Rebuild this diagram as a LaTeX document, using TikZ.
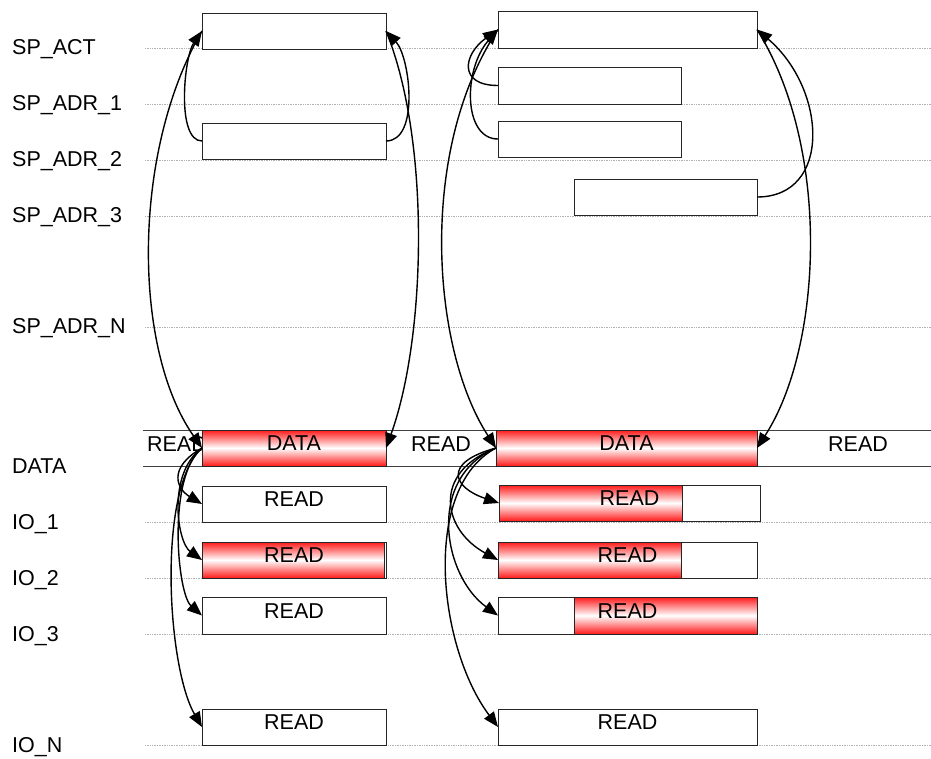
\documentclass[tikz,border=0pt]{standalone}
\usepackage{fontspec}
\setmainfont{Liberation Sans}
\usetikzlibrary{arrows.meta}

\begin{document}
\begin{tikzpicture}[x=1pt,y=-1pt,
every node/.style={font=\fontsize{21.5}{25}\selectfont},
lab/.style={anchor=base west,inner sep=0pt},
txt/.style={inner sep=0pt},
box/.style={draw=black!85,fill=white,line width=1pt,inner sep=0pt,outer sep=0pt,
  minimum height=36pt,text depth=9pt,anchor=north west},
frame/.style={box,fill=none},
redbox/.style={box,top color=red!90,bottom color=red!90,middle color=white},
guide/.style={densely dotted,gray!60,line width=0.7pt},
arr/.style={-{Triangle[length=15pt,width=12pt]},line width=1.4pt}]
\useasboundingbox (0,0) rectangle (931,758);

% row labels
\node[lab] (lact) at (12,54) {SP\_ACT};
\node[lab] (ladr1) at (12,110) {SP\_ADR\_1};
\node[lab] (ladr2) at (12,166) {SP\_ADR\_2};
\node[lab] (ladr3) at (12,222) {SP\_ADR\_3};
\node[lab] (ladrn) at (12,333) {SP\_ADR\_N};
\node[lab] (ldata) at (12,473) {DATA};
\node[lab] (lio1) at (12,529) {IO\_1};
\node[lab] (lio2) at (12,585) {IO\_2};
\node[lab] (lio3) at (12,641) {IO\_3};
\node[lab] (lion) at (12,752) {IO\_N};

% guide lines
\draw[guide] (145,48) -- (931,48);
\draw[guide] (145,104) -- (931,104);
\draw[guide] (145,160) -- (931,160);
\draw[guide] (145,216) -- (931,216);
\draw[guide] (145,327) -- (931,327);
\draw[guide] (145,522) -- (931,522);
\draw[guide] (145,578) -- (931,578);
\draw[guide] (145,634) -- (931,634);
\draw[guide] (145,745) -- (931,745);
\draw[black!75,line width=1pt] (143,430) -- (931,430);
\draw[black!75,line width=1pt] (143,466) -- (931,466);

% SP boxes
\node[box,minimum width=184pt] (acta) at (202,13) {};
\node[box,minimum width=184pt] (adr2a) at (202,123) {};
\node[box,minimum width=259pt,minimum height=37pt] (actb) at (498,11) {};
\node[box,minimum width=183pt,minimum height=37pt] (adr1b) at (498,67) {};
\node[box,minimum width=183pt] (adr2b) at (498,121) {};
\node[box,minimum width=183pt] (adr3b) at (574,179) {};

% DATA row
\node[txt] (rda) at (177,444) {READ};
\node[txt] (rdb) at (441,444) {READ};
\node[txt] (rdc) at (858,444) {READ};
\node[redbox,minimum width=184pt] (dataa) at (202,430) {DATA};
\node[redbox,minimum width=261pt] (datab) at (496,430) {DATA};

% IO boxes
\node[box,minimum width=184pt] (ioa1) at (202,486) {READ};
\node[redbox,minimum width=182pt] (ioa2r) at (202,542) {};
\node[frame,minimum width=184pt] (ioa2) at (202,542) {READ};
\node[box,minimum width=184pt,minimum height=37pt] (ioa3) at (202,597) {READ};
\node[box,minimum width=184pt] (ioan) at (202,709) {READ};
\node[redbox,minimum width=183pt] (iob1r) at (499,485) {};
\node[frame,minimum width=261pt] (iob1) at (499,485) {READ};
\node[redbox,minimum width=183pt] (iob2r) at (498,542) {};
\node[frame,minimum width=259pt] (iob2) at (498,542) {READ};
\node[redbox,minimum width=183pt,minimum height=37pt] (iob3r) at (574,597) {};
\node[frame,minimum width=259pt,minimum height=37pt] (iob3) at (498,597) {READ};
\node[box,minimum width=259pt] (iobn) at (498,709) {READ};

% arrows, left
\draw[arr] (adr2a.west) .. controls +(-26,0) and +(-18,26) .. (acta.west);
\draw[arr] (adr2a.east) .. controls +(34,0) and +(24,26) .. (acta.east);
\draw[arr] (acta.west) .. controls +(-70,120) and +(-70,-100) .. (dataa.west);
\draw[arr] (acta.east) .. controls +(45,110) and +(40,-110) .. (dataa.east);
\draw[arr] (dataa.west) .. controls +(-35,20) and +(-25,-15) .. (ioa1.west);
\draw[arr] (dataa.west) .. controls +(-35,25) and +(-25,-18) .. (ioa2.west);
\draw[arr] (dataa.west) .. controls +(-35,28) and +(-25,-22) .. (ioa3.west);
\draw[arr] (dataa.west) .. controls +(-45,40) and +(-35,-60) .. (ioan.west);

% arrows, right
\draw[arr] (adr1b.west) .. controls +(-40,0) and +(-35,25) .. (actb.west);
\draw[arr] (adr2b.west) .. controls +(-35,0) and +(-35,40) .. (actb.west);
\draw[arr] (adr3b.east) .. controls +(75,0) and +(70,60) .. (actb.east);
\draw[arr] (actb.west) .. controls +(-80,120) and +(-65,-100) .. (datab.west);
\draw[arr] (actb.east) .. controls +(75,120) and +(65,-100) .. (datab.east);
\draw[arr] (datab.west) .. controls +(-55,15) and +(-45,-15) .. (iob1.west);
\draw[arr] (datab.west) .. controls +(-65,25) and +(-55,-30) .. (iob2.west);
\draw[arr] (datab.west) .. controls +(-70,30) and +(-55,-40) .. (iob3.west);
\draw[arr] (datab.west) .. controls +(-75,40) and +(-60,-80) .. (iobn.west);
\end{tikzpicture}
\end{document}
